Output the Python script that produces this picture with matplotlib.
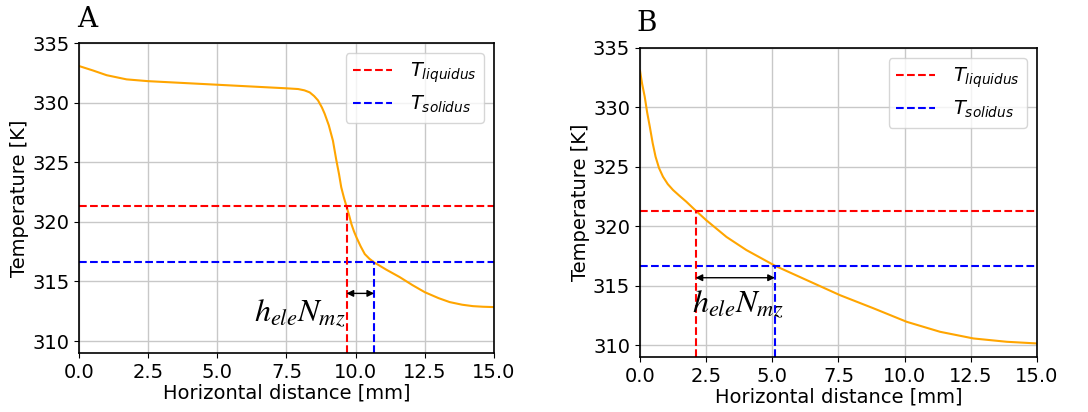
import numpy as np
from matplotlib import pyplot as plt

# panel A: temperature along the horizontal line
xa = [0.0, 0.5, 1.0, 1.72, 2.5, 5.0, 7.5, 7.92, 8.15, 8.34, 8.5, 8.64, 8.78, 8.88, 9.03,
      9.18, 9.3, 9.4, 9.48, 9.58, 9.67, 9.77, 9.85, 9.94, 10.03, 10.18, 10.33, 10.5,
      10.67, 11.1, 11.59, 12.05, 12.5, 13.0, 13.4, 13.85, 14.24, 14.6, 15.0]
ta = [333.07, 332.7, 332.3, 331.95, 331.8, 331.5, 331.2, 331.14, 331.03, 330.86, 330.55,
      330.19, 329.6, 329.07, 328.1, 326.8, 325.2, 324.0, 322.9, 322.0, 321.3, 320.5,
      319.8, 319.2, 318.7, 317.95, 317.3, 316.9, 316.6, 316.0, 315.37, 314.7, 314.1,
      313.6, 313.27, 313.05, 312.93, 312.88, 312.85]

# panel B
xb = [0.0, 0.08, 0.18, 0.27, 0.37, 0.48, 0.59, 0.72, 0.87, 1.05, 1.25, 1.5, 1.75, 2.1,
      2.51, 3.27, 4.02, 5.1, 6.3, 7.56, 8.82, 10.08, 11.34, 12.6, 13.86, 15.0]
tb = [333.1, 332.0, 330.9, 329.6, 328.4, 327.0, 325.85, 324.9, 324.17, 323.55, 323.05,
      322.55, 322.07, 321.33, 320.5, 319.1, 318.0, 316.68, 315.47, 314.2, 313.1, 311.96,
      311.12, 310.56, 310.28, 310.14]

t_liq = 321.3
t_sol = 316.65
xcross_a = [9.67, 10.67]
xcross_b = [2.1, 5.1]
arrow_y = [314.0, 315.67]
ticks_x = [0.0, 2.5, 5.0, 7.5, 10.0, 12.5, 15.0]
ticks_y = [310, 315, 320, 325, 330, 335]

plt.rcParams['font.size'] = 14

fig = plt.figure(figsize=(10.88, 4.12), dpi=100)
axA = fig.add_axes([0.0726, 0.1432, 0.3814, 0.7524])
axB = fig.add_axes([0.5882, 0.1335, 0.3649, 0.7500])

panels = [(axA, xa, ta, xcross_a, arrow_y[0], 'A'),
          (axB, xb, tb, xcross_b, arrow_y[1], 'B')]

for ax, x, t, xc, ay, lab in panels:
    ylo = 309.0
    ax.plot(x, t, color='orange', lw=1.5)
    ax.axhline(t_liq, color='red', ls='--', lw=1.5, label='$T_{liquidus}$')
    ax.axhline(t_sol, color='blue', ls='--', lw=1.5, label='$T_{solidus}$')
    ax.plot([xc[0], xc[0]], [ylo, t_liq], color='red', ls='--', lw=1.5)
    ax.plot([xc[1], xc[1]], [ylo, t_sol], color='blue', ls='--', lw=1.5)
    ax.annotate('', xy=(xc[1], ay), xytext=(xc[0], ay),
                arrowprops=dict(arrowstyle='<|-|>', color='black', lw=1,
                                shrinkA=0, shrinkB=0, mutation_scale=10))
    ax.set_xlim(0, 15)
    ax.set_ylim(ylo, 335)
    ax.set_xticks(ticks_x)
    ax.set_yticks(ticks_y)
    ax.grid(True, color='#c8c8c8', lw=1)
    for s in ax.spines.values():
        s.set_linewidth(1.2)
    ax.set_xlabel('Horizontal distance [mm]', labelpad=1)
    ax.set_ylabel('Temperature [K]', labelpad=2)
    ax.legend(loc='upper right', fontsize=14, handlelength=2.0, borderpad=0.4,
              labelspacing=0.45, handletextpad=0.9)

axA.text(9.62, 311.7, '$h_{ele}N_{mz}$', fontsize=23, ha='right', va='baseline',
         math_fontfamily='stix')
axB.text(1.98, 312.8, '$h_{ele}N_{mz}$', fontsize=23, ha='left', va='baseline',
         math_fontfamily='stix')

fig.text(0.071, 0.935, 'A', fontsize=20, family='DejaVu Serif')
fig.text(0.585, 0.925, 'B', fontsize=20, family='DejaVu Serif')

plt.savefig('out.png', dpi=100)
